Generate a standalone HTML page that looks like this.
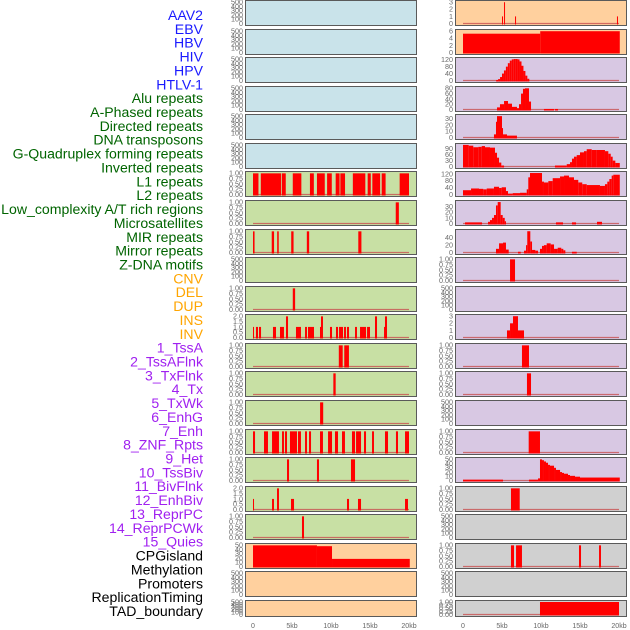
<!DOCTYPE html>
<html><head><meta charset="utf-8"><style>
html,body{margin:0;padding:0;background:#fff;}
svg{display:block;font-family:"Liberation Sans",sans-serif;}
</style></head><body>
<svg id="chart" width="630" height="630" viewBox="0 0 630 630" xmlns="http://www.w3.org/2000/svg">
<g id="labels"></g>
<g id="panels"></g>
<g id="xaxes"></g>
</svg>
<script>
// ---- data ----
const featureLabels = ["AAV2","EBV","HBV","HIV","HPV","HTLV-1","Alu repeats","A-Phased repeats","Directed repeats","DNA transposons","G-Quadruplex forming repeats","Inverted repeats","L1 repeats","L2 repeats","Low_complexity A/T rich regions","Microsatellites","MIR repeats","Mirror repeats","Z-DNA motifs","CNV","DEL","DUP","INS","INV","1_TssA","2_TssAFlnk","3_TxFlnk","4_Tx","5_TxWk","6_EnhG","7_Enh","8_ZNF_Rpts","9_Het","10_TssBiv","11_BivFlnk","12_EnhBiv","13_ReprPC","14_ReprPCWk","15_Quies","CPGisland","Methylation","Promoters","ReplicationTiming","TAD_boundary"];
const labelGroups = ["v","v","v","v","v","v","r","r","r","r","r","r","r","r","r","r","r","r","r","s","s","s","s","s","c","c","c","c","c","c","c","c","c","c","c","c","c","c","c","o","o","o","o","o"];
const xTickKb = [0,5,10,15,20];
const xTickLabels = ["0","5kb","10kb","15kb","20kb"];

// left column segments [startKb, endKb, value]
const aluSeg = [[0,0.7,1],[1,3.6,1],[3.7,4.2,1],[5.1,6.2,1],[7.3,7.8,1],[8.2,9.2,1],[9.5,10.1,1],[10.6,11.1,1],[11.2,11.8,1],[12.8,14.4,1],[14.7,15.1,1],[15.3,16.3,1],[16.5,17.0,1],[18.8,20,1]];
const aphasedSeg = [[18.3,18.7,1]];
const directedSeg = [[0,0.2,1],[2.4,2.7,1],[3.1,3.3,1],[4.9,5.2,1],[6.9,7.2,1],[13.5,13.9,1]];
const gquadSeg = [[5.1,5.4,1]];
const invertedSeg = [[0,0.13,1],[0.38,0.64,1],[0.77,1.03,1],[2.56,2.95,1],[3.46,3.97,1],[4.23,4.49,2],[5.51,6.15,1],[6.67,6.92,1],[7.05,7.82,1],[8.59,8.72,1],[8.72,8.97,2],[9.87,10.13,1],[10.64,10.9,1],[11.03,11.54,1],[11.67,11.92,1],[12.05,12.31,1],[13.08,13.33,1],[13.72,14.49,1],[14.62,15.0,1],[15.64,15.9,2],[16.8,16.92,1],[16.92,17.18,2]];
const l1Seg = [[11.0,11.5,1],[11.7,12.3,1]];
const l2Seg = [[10.3,10.6,1]];
const lowcSeg = [[8.6,9.0,1]];
const microSeg = [[0,0.26,1],[1.41,1.92,1],[2.44,3.33,1],[3.72,3.97,1],[4.1,4.36,1],[4.74,5.64,1],[5.77,6.15,1],[6.67,6.92,1],[7.18,7.44,1],[8.59,8.97,1],[9.62,10.13,1],[10.51,10.9,1],[11.41,11.79,1],[12.69,13.08,1],[13.21,13.85,1],[14.23,14.49,1],[15.26,15.51,1],[16.92,17.31,1],[18.33,18.59,1],[19.49,20,1]];
const mirSeg = [[4.36,4.62,1],[8.2,8.46,1],[12.56,13.08,1]];
const mirrorSeg = [[0,0.13,1],[2.44,2.69,1],[3.08,3.33,2],[4.87,5.26,1],[12.05,12.31,1],[13.46,13.85,1],[19.49,19.87,1]];
const zdnaSeg = [[6.28,6.54,1]];
const cnvSeg = [[0,8.2,50],[8.2,10.13,48],[10.13,20.1,18]];

// right column segments
const insSeg = [[5.0,5.13,1],[5.26,5.38,3],[6.67,6.8,1],[19.74,19.87,1]];
const invSeg = [[0,9.9,5.3],[9.9,20.1,6]];
const tssaSeg = [[4.25,4.5,3],[4.5,4.75,8],[4.75,5,20],[5,5.25,40],[5.25,5.5,58],[5.5,5.75,80],[5.75,6,100],[6,6.25,115],[6.25,6.5,122],[6.5,6.75,124],[6.75,7,124],[7,7.25,122],[7.25,7.5,110],[7.5,7.75,85],[7.75,8,55],[8,8.25,28],[8.25,8.5,10]];
const tssaflnkSeg = [[4.36,4.74,8],[4.74,5.26,20],[5.26,5.77,32],[5.77,6.28,22],[6.28,6.92,10],[6.92,7.18,5],[7.18,7.44,20],[7.44,7.69,60],[7.69,7.95,78],[7.95,8.46,80],[8.46,8.72,30],[10.38,11.67,2],[11.79,12.18,2]];
const txflnkSeg = [[3.97,4.23,5],[4.23,4.36,25],[4.36,5.0,34],[5.0,5.13,15],[5.13,5.64,5],[5.64,6.92,3]];
const txSeg = [[0,0.73,110],[0.73,1.32,106],[1.32,1.96,98],[1.96,2.4,100],[2.4,2.82,104],[2.82,3.46,98],[3.46,4.1,96],[4.1,4.36,70],[4.36,4.62,45],[4.62,4.91,20],[4.91,5.26,5],[11.79,13.3,5],[13.3,13.72,12],[13.72,13.97,22],[13.97,14.23,40],[14.23,14.58,50],[14.58,15.0,58],[15.0,15.51,72],[15.51,15.86,78],[15.86,16.5,88],[16.5,17.14,84],[17.14,18.2,84],[18.2,18.63,78],[18.63,18.94,65],[18.94,19.19,50],[19.19,19.53,30],[19.53,20.1,18]];
const txwkSeg = [[0,1.03,25],[1.03,2.05,35],[2.05,2.6,33],[2.6,3.04,30],[3.04,3.97,35],[3.97,4.62,45],[4.62,4.96,38],[4.96,5.51,42],[5.51,5.77,20],[5.77,6.37,5],[6.37,7.31,8],[7.31,8.17,10],[8.17,8.37,30],[8.37,8.59,100],[8.59,10.13,125],[10.13,10.38,75],[10.38,10.94,70],[10.94,11.5,78],[11.5,12.44,95],[12.44,12.95,105],[12.95,13.59,110],[13.59,14.23,100],[14.23,14.78,85],[14.78,15.29,70],[15.29,15.86,60],[15.86,17.56,55],[17.56,18.2,50],[18.2,18.5,60],[18.5,18.76,75],[18.76,19.06,90],[19.06,19.27,110],[19.27,20.1,115]];
const enhgSeg = [[0.26,2.44,2],[3.21,3.46,3],[3.46,3.72,6],[3.72,3.97,10],[3.97,4.23,15],[4.23,4.45,32],[4.45,4.83,38],[4.83,5.09,15],[5.09,5.35,10],[5.35,5.51,4],[11.92,12.82,2],[13.97,14.49,2],[17.18,17.82,3]];
const enhSeg = [[4.23,4.62,10],[4.62,5.13,25],[5.13,5.51,27],[5.51,5.86,8],[7.05,7.4,2],[7.82,8.08,5],[8.08,8.24,20],[8.24,8.63,58],[8.63,8.85,30],[8.85,9.27,7],[9.27,9.62,5],[9.87,10.13,10],[10.13,10.38,18],[10.38,10.73,20],[10.73,11.24,25],[11.24,11.67,22],[11.67,12.14,10],[12.14,12.6,13],[12.6,12.86,10],[12.86,13.12,6],[13.97,14.58,2]];
const znfSeg = [[6.03,6.67,1]];
const tssbivSeg = [[5.64,6.03,1],[6.03,6.41,2],[6.41,7.05,3],[7.05,7.82,1]];
const bivflnkSeg = [[7.56,8.46,1]];
const enhbivSeg = [[8.2,8.72,1]];
const reprpcwkSeg = [[8.42,9.87,1]];
const quiesSeg = [[0,5.13,2],[8.46,9.62,2],[9.62,9.87,5],[9.87,10.13,50],[10.13,10.38,48],[10.38,10.64,45],[10.64,10.9,42],[10.9,11.15,37],[11.15,11.67,35],[11.67,11.92,30],[11.92,12.44,25],[12.44,12.69,20],[12.69,12.95,18],[12.95,13.46,16],[13.46,13.72,13],[13.72,14.36,11],[14.36,15.0,9],[15.0,20.1,7]];
const cpgSeg = [[6.15,7.27,1]];
const promSeg = [[6.15,6.54,1],[6.8,7.56,1],[14.87,15.13,1],[17.44,17.69,1]];
const tadSeg = [[9.87,20,1]];

const emptyTicks = [0,100,200,300,400,500];
const unitTicks = [0,0.25,0.5,0.75,1];
const twoTicks = [0,0.5,1,1.5,2];

// ---- layout ----
const NS = "http://www.w3.org/2000/svg";
const colX = [245,455], panelW = 171, dataX0 = [253,463], pxKb = 7.8;
const bgColors = {v:"#c9e3ea", r:"#c8e0a4", s:"#ffd09e", c:"#d8c8e3", o:"#d0d0d0"};
const labelColors = {v:"#1a1aff", r:"#006400", s:"#ffa500", c:"#a020f0", o:"#000000"};

function mk(tag, attrs, parent){const e=document.createElementNS(NS,tag);for(const k in attrs)e.setAttribute(k,attrs[k]);parent.appendChild(e);return e;}
function fmt(t, ticks){
  if(ticks===unitTicks) return t.toFixed(2);
  if(ticks===twoTicks) return t.toFixed(1);
  return String(t);
}

const panelSpec = [
  [null,emptyTicks,520],[null,emptyTicks,520],[null,emptyTicks,520],[null,emptyTicks,520],[null,emptyTicks,520],[null,emptyTicks,520],
  [aluSeg,unitTicks,1.04],[aphasedSeg,unitTicks,1.04],[directedSeg,unitTicks,1.04],[null,emptyTicks,520],[gquadSeg,unitTicks,1.04],
  [invertedSeg,twoTicks,2.08],[l1Seg,unitTicks,1.04],[l2Seg,unitTicks,1.04],[lowcSeg,unitTicks,1.04],[microSeg,unitTicks,1.04],
  [mirSeg,unitTicks,1.04],[mirrorSeg,twoTicks,2.08],[zdnaSeg,unitTicks,1.04],[cnvSeg,[0,10,20,30,40,50],52],[null,emptyTicks,520],[null,emptyTicks,520],
  [insSeg,[0,1,2,3],3.1],[invSeg,[0,2,4,6],6.2],[tssaSeg,[0,40,80,120],127],[tssaflnkSeg,[0,20,40,60,80],83],[txflnkSeg,[0,10,20,30],35],
  [txSeg,[0,30,60,90],112],[txwkSeg,[0,40,80,120],128],[enhgSeg,[0,10,20,30],39],[enhSeg,[0,20,40],60],[znfSeg,unitTicks,1.04],
  [null,emptyTicks,520],[tssbivSeg,[0,1,2,3],3.1],[bivflnkSeg,unitTicks,1.04],[enhbivSeg,unitTicks,1.04],[null,emptyTicks,520],
  [reprpcwkSeg,unitTicks,1.04],[quiesSeg,[0,10,20,30,40,50],52],[cpgSeg,unitTicks,1.04],[null,emptyTicks,520],[promSeg,unitTicks,1.04],
  [null,emptyTicks,520],[tadSeg,unitTicks,1.04]
];

const labelsG = document.getElementById('labels');
featureLabels.forEach((name,i)=>{
  const t = mk('text',{x:203,y:(20+i*13.86).toFixed(1),'text-anchor':'end','font-size':14.1,fill:labelColors[labelGroups[i]]},labelsG);
  t.textContent = name;
  
  
});

const panelsG = document.getElementById('panels');
featureLabels.forEach((name,i)=>{
  const col = i < 22 ? 0 : 1, row = i % 22;
  const top = Math.round(row*28.57), h = row===21 ? 17 : 26;
  const [segs, ticks, yMax] = panelSpec[i];
  const g = mk('g',{},panelsG);
  
  
  mk('rect',{x:colX[col]+0.5,y:top+0.5,width:panelW,height:h-1,fill:bgColors[labelGroups[i]],stroke:'#5a5a5a','stroke-width':1},g);
  const y0 = top + h - 2.5, span = h - 4;
  const ys = v => y0 - v / yMax * span;
  const xs = kb => dataX0[col] + kb * pxKb;
  ticks.forEach(t=>{
    const tt = mk('text',{x:colX[col]-2,y:(ys(t)+2.4).toFixed(1),'text-anchor':'end','font-size':7.2,fill:'#6a6a6a'},g);
    tt.textContent = fmt(t,ticks);
    
    
  });
  if(segs){
    mk('line',{x1:xs(0),x2:xs(20),y1:y0,y2:y0,stroke:'#c85050','stroke-width':1.2,'stroke-opacity':0.8},g);
    segs.forEach(s=>{
      const r = mk('rect',{x:xs(s[0]).toFixed(2),y:ys(s[2]).toFixed(2),width:Math.max(1,(s[1]-s[0])*pxKb).toFixed(2),height:(y0-ys(s[2])+1).toFixed(2),fill:'#ff0000'},g);
      
      
    });
  }
});

const xg = document.getElementById('xaxes');
[0,1].forEach(col=>{
  xTickKb.forEach((kb,j)=>{
    const t = mk('text',{x:dataX0[col]+kb*pxKb,y:628,'text-anchor':'middle','font-size':7,fill:'#666'},xg);
    t.textContent = xTickLabels[j];
    
    
  });
});
</script>
</body></html>
